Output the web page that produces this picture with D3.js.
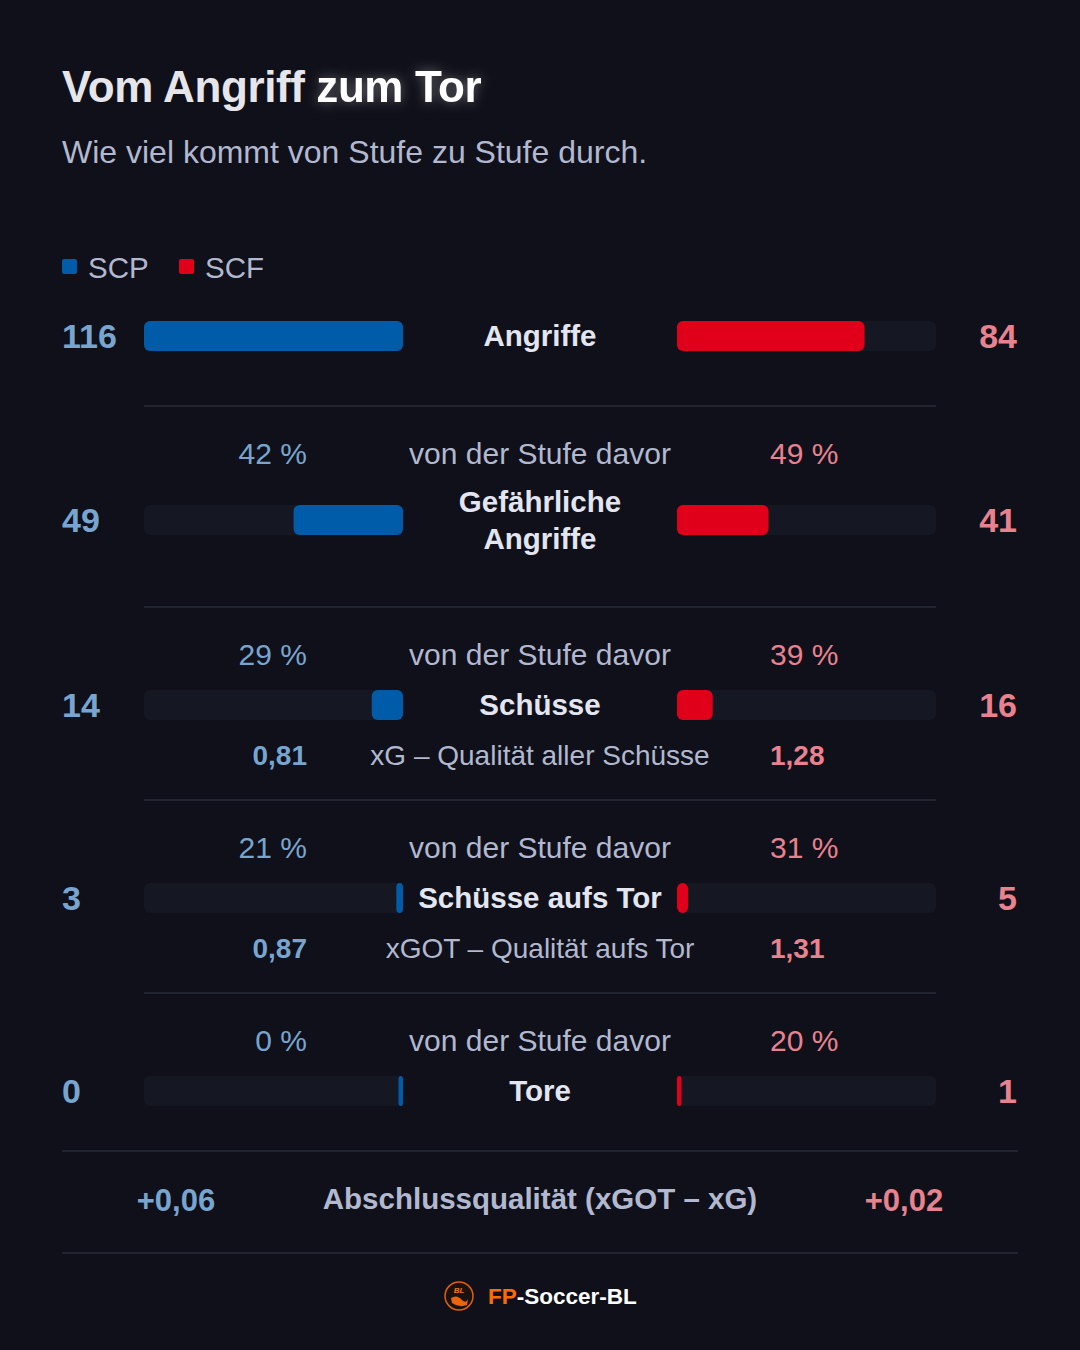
<!DOCTYPE html>
<html><head><meta charset="utf-8">
<script src="https://cdn.jsdelivr.net/npm/d3@7"></script>
<style>
html,body{margin:0;padding:0;background:#0f1019;}
svg{display:block;font-family:"Liberation Sans",Arial,sans-serif;}
</style></head>
<body>
<svg id="c" width="1080" height="1350"></svg>
<script>
const teams = ["SCP", "SCF"];
const stages = ["Angriffe", "Gefährliche Angriffe", "Schüsse", "Schüsse aufs Tor", "Tore"];
const scpValues = [116, 49, 14, 3, 0];
const scfValues = [84, 41, 16, 5, 1];
const scpPct = [null, 42, 29, 21, 0];
const scfPct = [null, 49, 39, 31, 20];
const xgLabels = [null, null, "xG – Qualität aller Schüsse", "xGOT – Qualität aufs Tor", null];
const scpXg = [null, null, 0.81, 0.87, null];
const scfXg = [null, null, 1.28, 1.31, null];
const finishLabel = "Abschlussqualität (xGOT – xG)";
const scpFinish = 0.06;
const scfFinish = 0.02;

const C = {
  bg:"#0f1019", blue:"#005ca9", red:"#e1001a", track:"#151823",
  blueTxt:"#78a5cf", redTxt:"#e8828f", label:"#e3e5f1", muted:"#b2b8cf", line:"#2a2c3a"
};
const fmt = v => v.toFixed(2).replace(".", ",");

const svg = d3.select("#c");
svg.append("rect").attr("width",1080).attr("height",1350).attr("fill",C.bg);

const defs = svg.append("defs");
const glow = defs.append("filter").attr("id","glow").attr("x","-30%").attr("y","-60%").attr("width","160%").attr("height","220%");
glow.append("feGaussianBlur").attr("in","SourceAlpha").attr("stdDeviation",6).attr("result","b");
glow.append("feFlood").attr("flood-color","#ffffff").attr("flood-opacity",0.35);
glow.append("feComposite").attr("in2","b").attr("operator","in").attr("result","g");
const gm = glow.append("feMerge");
gm.append("feMergeNode").attr("in","g");
gm.append("feMergeNode").attr("in","SourceGraphic");

// Title
const t1 = svg.append("text").attr("x",62).attr("y",102).attr("fill","#e6e6ea").style("white-space","pre")
  .attr("font-size",44).attr("font-weight",700).attr("letter-spacing",-0.4).text("Vom Angriff ");
const w1 = t1.node().getComputedTextLength();
svg.append("text").attr("x",62+w1).attr("y",102).attr("fill","#ffffff").attr("filter","url(#glow)")
  .attr("font-size",44).attr("font-weight",700).attr("letter-spacing",-0.4).text("zum Tor");

svg.append("text").attr("x",62).attr("y",163).attr("fill",C.muted)
  .attr("font-size",32).text("Wie viel kommt von Stufe zu Stufe durch.");

// Legend
const leg = [{t:teams[0],c:C.blue,x:62},{t:teams[1],c:C.red,x:179}];
leg.forEach(l=>{
  svg.append("rect").attr("x",l.x).attr("y",259).attr("width",15).attr("height",15).attr("rx",2).attr("fill",l.c);
  svg.append("text").attr("x",l.x+26).attr("y",278).attr("fill",C.muted).attr("font-size",29.5).text(l.t);
});

// Scales
const maxV = d3.max(scpValues.concat(scfValues));
const trackW = 259;
const x = d3.scaleLinear().domain([0,maxV]).range([0,trackW]);
const leftEnd = 403, rightStart = 677, barH = 30, minW = 4.5;

const rowY = [336, 520, 705, 898, 1091];
const sepY = [406, 607, 800, 993];

sepY.forEach(y=>svg.append("line").attr("x1",144).attr("x2",936).attr("y1",y).attr("y2",y)
  .attr("stroke",C.line).attr("stroke-width",1.5));

stages.forEach((s,i)=>{
  const cy = rowY[i];
  svg.append("rect").attr("x",leftEnd-trackW).attr("y",cy-barH/2).attr("width",trackW).attr("height",barH).attr("rx",6).attr("fill",C.track);
  svg.append("rect").attr("x",rightStart).attr("y",cy-barH/2).attr("width",trackW).attr("height",barH).attr("rx",6).attr("fill",C.track);
  const wl = Math.max(minW, x(scpValues[i]));
  const wr = Math.max(minW, x(scfValues[i]));
  const rl = Math.min(6, wl/2+1), rr = Math.min(6, wr/2+1);
  svg.append("rect").attr("x",leftEnd-wl).attr("y",cy-barH/2).attr("width",wl).attr("height",barH).attr("rx",rl).attr("fill",C.blue);
  svg.append("rect").attr("x",rightStart).attr("y",cy-barH/2).attr("width",wr).attr("height",barH).attr("rx",rr).attr("fill",C.red);
  svg.append("text").attr("x",62).attr("y",cy+12).attr("fill",C.blueTxt).attr("font-size",34).attr("font-weight",700).text(scpValues[i]);
  svg.append("text").attr("x",1017).attr("y",cy+12).attr("text-anchor","end").attr("fill",C.redTxt).attr("font-size",34).attr("font-weight",700).text(scfValues[i]);
  const words = s === "Gefährliche Angriffe" ? ["Gefährliche","Angriffe"] : [s];
  words.forEach((w,k)=>{
    const yy = cy + 10 + (k - (words.length-1)/2)*37;
    svg.append("text").attr("x",540).attr("y",yy).attr("text-anchor","middle").attr("fill",C.label)
      .attr("font-size",29.5).attr("font-weight",700).text(w);
  });
  if(scpPct[i]!==null){
    const py = cy - (i===1 ? 66 : 50) + 10;
    svg.append("text").attr("x",307).attr("y",py).attr("text-anchor","end").attr("fill",C.blueTxt).attr("font-size",30).text(scpPct[i]+" %");
    svg.append("text").attr("x",540).attr("y",py).attr("text-anchor","middle").attr("fill",C.muted).attr("font-size",30).text("von der Stufe davor");
    svg.append("text").attr("x",770).attr("y",py).attr("fill",C.redTxt).attr("font-size",30).text(scfPct[i]+" %");
  }
  if(xgLabels[i]){
    const xy = cy + 60;
    svg.append("text").attr("x",307).attr("y",xy).attr("text-anchor","end").attr("fill",C.blueTxt).attr("font-size",28).attr("font-weight",700).text(fmt(scpXg[i]));
    svg.append("text").attr("x",540).attr("y",xy).attr("text-anchor","middle").attr("fill",C.muted).attr("font-size",28).text(xgLabels[i]);
    svg.append("text").attr("x",770).attr("y",xy).attr("fill",C.redTxt).attr("font-size",28).attr("font-weight",700).text(fmt(scfXg[i]));
  }
});

[1151,1253].forEach(y=>svg.append("line").attr("x1",62).attr("x2",1018).attr("y1",y).attr("y2",y).attr("stroke",C.line).attr("stroke-width",1.5));
svg.append("text").attr("x",176).attr("y",1211).attr("text-anchor","middle").attr("fill",C.blueTxt).attr("font-size",31).attr("font-weight",700).text("+"+fmt(scpFinish));
svg.append("text").attr("x",540).attr("y",1209).attr("text-anchor","middle").attr("fill",C.muted).attr("font-size",29.5).attr("font-weight",700).text(finishLabel);
svg.append("text").attr("x",904).attr("y",1211).attr("text-anchor","middle").attr("fill",C.redTxt).attr("font-size",31).attr("font-weight",700).text("+"+fmt(scfFinish));

const lg = svg.append("g").attr("transform","translate(459,1296)");
lg.append("circle").attr("r",14).attr("fill","#1a1210").attr("stroke","#e0600a").attr("stroke-width",1.5);
lg.append("text").attr("x",0).attr("y",-3).attr("text-anchor","middle").attr("fill","#f07a1a").attr("font-size",8).attr("font-weight",700).attr("font-style","italic").text("BL");
lg.append("path").attr("d","M-8,2 Q-2,-2 3,4 Q7,8 9,3 L8,9 Q0,12 -7,7 Z").attr("fill","#e8660f");
const ft = svg.append("text").attr("x",488).attr("y",1304).attr("font-size",22.5).attr("font-weight",700);
ft.append("tspan").attr("fill","#ff6b00").text("FP");
ft.append("tspan").attr("fill","#ffffff").text("-Soccer-BL");
</script>
</body></html>
